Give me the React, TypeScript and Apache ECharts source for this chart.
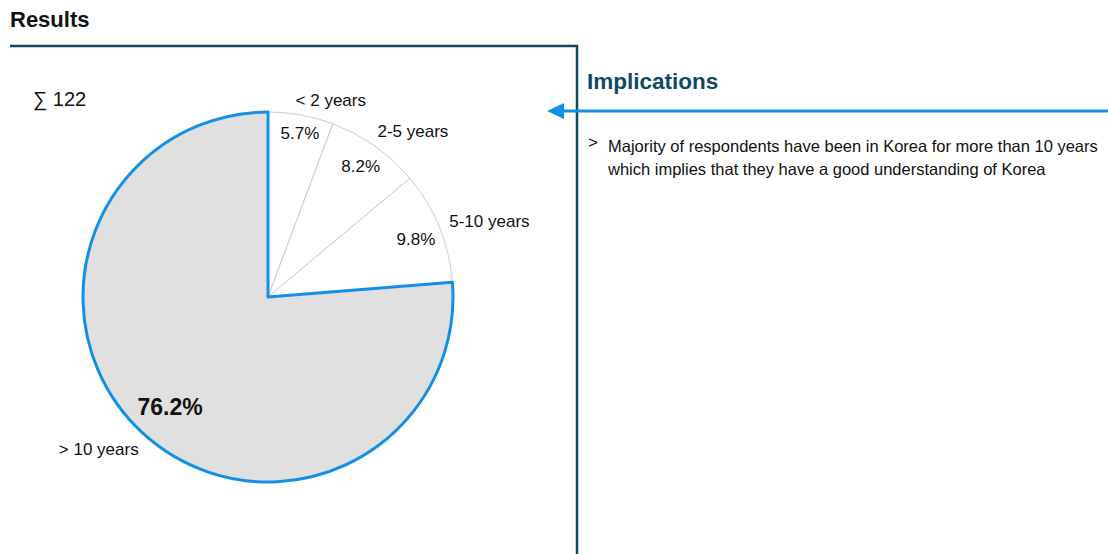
import React, { useEffect, useRef } from "react";
import * as echarts from "echarts";

const categories = ["< 2 years", "2-5 years", "5-10 years", "> 10 years"];
const shares = [5.7, 8.2, 9.8, 76.2];
const total = 122;
const title = "Results";
const sideTitle = "Implications";
const bulletLines = [
  "Majority of respondents have been in Korea for more than 10 years",
  "which implies that they have a good understanding of Korea",
];

const FONT = "'Liberation Sans', Arial, sans-serif";
const NAVY = "#0e4b63";
const BLUE = "#1290e6";
const CX = 268;
const CY = 297;
const R = 185;

// label nudges (layout only)
const nameShift = [
  [23, 23],
  [16, 16],
  [15, 9],
  [-18, -11],
];
const pctShift = [
  [3, -4],
  [-1, 2],
  [-2, 4],
  [12, -9],
];

export default function App() {
  const ref = useRef<HTMLDivElement>(null);
  useEffect(() => {
    if (!ref.current) return;
    const chart = echarts.init(ref.current, null, { renderer: "svg" });
    const last = categories.length - 1;
    const baseData = categories.map((c, i) => ({
      name: c,
      value: shares[i],
      itemStyle:
        i === last
          ? { color: "#e0e0e0", borderColor: BLUE, borderWidth: 3 }
          : { color: "#ffffff", borderColor: "#cccccc", borderWidth: 1 },
    }));
    const pctData = categories.map((c, i) => ({
      name: c,
      value: shares[i],
      label:
        i === last
          ? { fontWeight: "bold", fontSize: 23 }
          : { fontSize: 17 },
    }));
    chart.setOption({
      animation: false,
      series: [
        {
          type: "pie",
          center: [CX, CY],
          radius: [0, R],
          startAngle: 90,
          clockwise: true,
          silent: true,
          label: { show: false },
          labelLine: { show: false },
          data: baseData,
          z: 1,
        },
        {
          type: "pie",
          center: [CX, CY],
          radius: [0, 318],
          startAngle: 90,
          silent: true,
          itemStyle: { color: "transparent", borderWidth: 0 },
          label: {
            show: true,
            position: "inside",
            formatter: (p: any) => p.value.toFixed(1) + "%",
            color: "#111",
            fontFamily: FONT,
            fontSize: 17,
          },
          labelLine: { show: false },
          labelLayout: (p: any) => ({ dx: pctShift[p.dataIndex][0], dy: pctShift[p.dataIndex][1] }),
          data: pctData,
          z: 2,
        },
        {
          type: "pie",
          center: [CX, CY],
          radius: [0, 440],
          startAngle: 90,
          silent: true,
          itemStyle: { color: "transparent", borderWidth: 0 },
          label: {
            show: true,
            position: "inside",
            formatter: "{b}",
            color: "#111",
            fontFamily: FONT,
            fontSize: 17,
          },
          labelLine: { show: false },
          labelLayout: (p: any) => ({ dx: nameShift[p.dataIndex][0], dy: nameShift[p.dataIndex][1] }),
          data: categories.map((c, i) => ({ name: c, value: shares[i] })),
          z: 2,
        },
      ],
      graphic: [
        {
          type: "text",
          left: 10,
          top: 8,
          style: { text: title, font: `bold 22px ${FONT}`, fill: "#111" },
        },
        {
          type: "polyline",
          shape: { points: [[10, 46], [577, 46], [577, 560]] },
          style: { stroke: NAVY, lineWidth: 2.5, fill: null },
        },
        {
          type: "text",
          left: 33,
          top: 89,
          style: { text: "∑ " + total, font: `20px ${FONT}`, fill: "#111" },
        },
        {
          type: "text",
          left: 587,
          top: 70,
          style: { text: sideTitle, font: `bold 22.5px ${FONT}`, fill: NAVY },
        },
        {
          type: "line",
          shape: { x1: 560, y1: 111, x2: 1110, y2: 111 },
          style: { stroke: BLUE, lineWidth: 3 },
        },
        {
          type: "polygon",
          shape: { points: [[547, 111], [564, 103], [564, 119]] },
          style: { fill: BLUE },
        },
        {
          type: "text",
          left: 588,
          top: 134,
          style: { text: ">", font: `17px ${FONT}`, fill: "#111" },
        },
        {
          type: "text",
          left: 608,
          top: 134,
          style: {
            text: bulletLines.join("\n"),
            font: `16.5px ${FONT}`,
            lineHeight: 23,
            fill: "#111",
          },
        },
      ],
    });
    return () => chart.dispose();
  }, []);
  return (
    <div
      ref={ref}
      style={{ position: "fixed", left: 0, top: 0, width: 1108, height: 554, background: "#fff" }}
    />
  );
}
